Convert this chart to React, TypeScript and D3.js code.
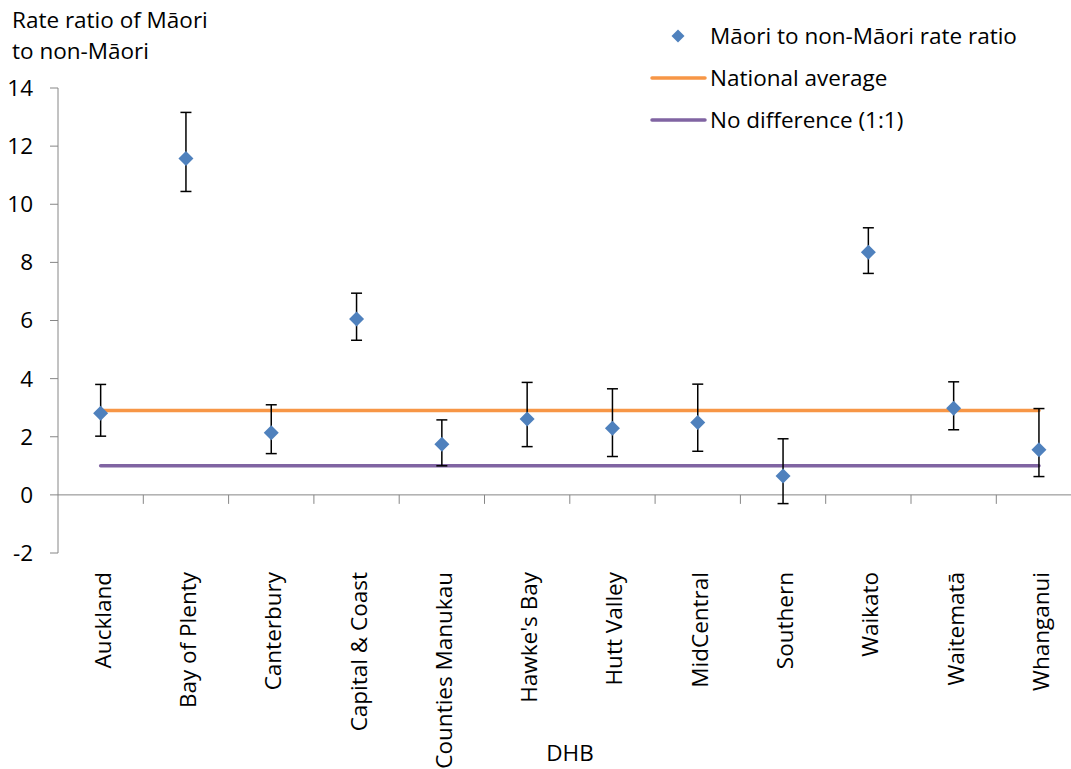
import React from "react";
import * as d3 from "d3";

const categories = ["Auckland", "Bay of Plenty", "Canterbury", "Capital & Coast", "Counties Manukau", "Hawke's Bay", "Hutt Valley", "MidCentral", "Southern", "Waikato", "Waitematā", "Whanganui"];
const ratios = [2.81, 11.57, 2.14, 6.05, 1.74, 2.61, 2.29, 2.49, 0.65, 8.35, 2.98, 1.55];
const upper = [3.80, 13.16, 3.10, 6.94, 2.58, 3.87, 3.65, 3.81, 1.93, 9.19, 3.89, 2.97];
const lower = [2.02, 10.44, 1.42, 5.32, 1.0, 1.66, 1.32, 1.50, -0.30, 7.62, 2.24, 0.63];
const nationalAverage = 2.9;
const noDifference = 1;
const yTicks = [-2, 0, 2, 4, 6, 8, 10, 12, 14];

const W = 1071;
const H = 769;
const FONT = "'Open Sans', 'Noto Sans', sans-serif";
const AXIS = "#868686";
const BLUE = "#4F81BD";
const ORANGE = "#F79646";
const PURPLE = "#8064A2";

export default function App() {
  const x = d3.scaleBand<string>().domain(categories).range([58, 58 + 12 * 85.3]).padding(0);
  const y = d3.scaleLinear().domain([-2, 14]).range([553, 88]);
  const cx = (c: string) => (x(c) as number) + x.bandwidth() / 2;
  const first = cx(categories[0]);
  const last = cx(categories[categories.length - 1]);
  const diamond = (px: number, py: number, r: number) => `M${px},${py - r}L${px + r},${py}L${px},${py + r}L${px - r},${py}Z`;
  const fs = 22.5;

  return (
    <svg width={W} height={H} style={{ position: "absolute", left: 0, top: 0, background: "#fff" }} fontFamily={FONT}>
      {/* y axis title */}
      <text x={12} y={28} fontSize={fs} fill="#000">Rate ratio of Māori</text>
      <text x={12} y={59} fontSize={fs} fill="#000">to non-Māori</text>

      {/* y axis */}
      <line x1={58} x2={58} y1={y(14)} y2={y(-2)} stroke={AXIS} strokeWidth={1} />
      {yTicks.map((t) => (
        <g key={t}>
          <line x1={50} x2={58} y1={y(t)} y2={y(t)} stroke={AXIS} strokeWidth={1} />
          <text x={33} y={y(t)} dy="0.35em" textAnchor="end" fontSize={fs} fill="#000">{t}</text>
        </g>
      ))}

      {/* x axis */}
      <line x1={58} x2={W} y1={y(0)} y2={y(0)} stroke={AXIS} strokeWidth={1} />
      {categories.map((c, i) => {
        const tx = (x(c) as number) + x.bandwidth();
        return <line key={"t" + i} x1={tx} x2={tx} y1={y(0)} y2={y(0) + 9} stroke={AXIS} strokeWidth={1} />;
      })}
      {categories.map((c) => (
        <text key={"l" + c} transform={`translate(${cx(c) + 10},572) rotate(-90)`} textAnchor="end" fontSize={fs} fill="#000">{c}</text>
      ))}
      <text x={570} y={761} textAnchor="middle" fontSize={fs} fill="#000">DHB</text>

      {/* reference lines */}
      <line x1={first} x2={last} y1={y(nationalAverage)} y2={y(nationalAverage)} stroke={ORANGE} strokeWidth={3.5} strokeLinecap="round" />
      <line x1={first} x2={last} y1={y(noDifference)} y2={y(noDifference)} stroke={PURPLE} strokeWidth={3.5} strokeLinecap="round" />

      {/* error bars */}
      {categories.map((c, i) => {
        const px = cx(c);
        return (
          <g key={"e" + c} stroke="#000" strokeWidth={1.5}>
            <line x1={px} x2={px} y1={y(upper[i])} y2={y(lower[i])} />
            <line x1={px - 5.5} x2={px + 5.5} y1={y(upper[i])} y2={y(upper[i])} />
            <line x1={px - 5.5} x2={px + 5.5} y1={y(lower[i])} y2={y(lower[i])} />
          </g>
        );
      })}

      {/* points */}
      {categories.map((c, i) => (
        <path key={"p" + c} d={diamond(cx(c), y(ratios[i]), 7.5)} fill={BLUE} />
      ))}

      {/* legend */}
      <path d={diamond(678, 36, 6.5)} fill={BLUE} />
      <text x={710} y={44} fontSize={fs} fill="#000">Māori to non-Māori rate ratio</text>
      <line x1={652} x2={705} y1={78} y2={78} stroke={ORANGE} strokeWidth={3.5} strokeLinecap="round" />
      <text x={710} y={86} fontSize={fs} fill="#000">National average</text>
      <line x1={652} x2={705} y1={120} y2={120} stroke={PURPLE} strokeWidth={3.5} strokeLinecap="round" />
      <text x={710} y={128} fontSize={fs} fill="#000">No difference (1:1)</text>
    </svg>
  );
}
